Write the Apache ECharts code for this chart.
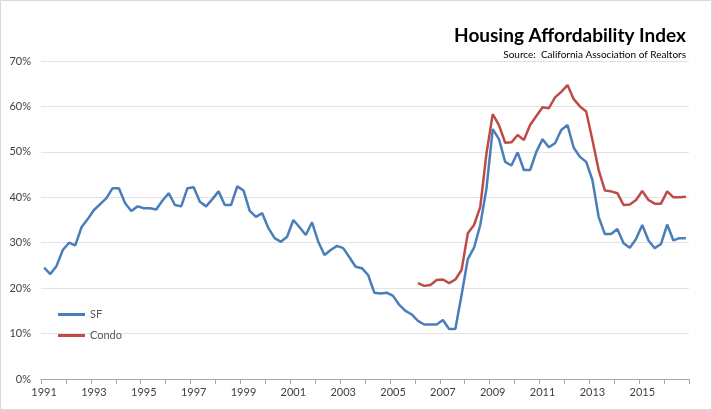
<!DOCTYPE html>
<html>
<head>
<meta charset="utf-8">
<script src="https://cdn.jsdelivr.net/npm/echarts@6/dist/echarts.min.js"></script>
<style>
html,body{margin:0;padding:0;background:#fff;}
#chart{width:712px;height:410px;}
</style>
</head>
<body>
<div id="chart"></div>
<script>
// Quarterly categories 1991 Q1 .. 2016 Q4
var years = ['1991','1992','1993','1994','1995','1996','1997','1998','1999','2000','2001','2002','2003',
             '2004','2005','2006','2007','2008','2009','2010','2011','2012','2013','2014','2015','2016'];
var quarters = ['Q1','Q2','Q3','Q4'];
var categories = [];
years.forEach(function(y){ quarters.forEach(function(q){ categories.push(y + ' ' + q); }); });

// Housing Affordability Index, single family (%)
var sfValues = [
  24.5, 23.1, 24.9, 28.4, 30.0, 29.4, 33.4, 35.2, 37.2, 38.5, 39.8, 42.0,
  42.0, 38.7, 37.0, 38.0, 37.6, 37.6, 37.3, 39.3, 40.9, 38.3, 38.0, 42.0,
  42.2, 39.0, 38.0, 39.6, 41.3, 38.3, 38.3, 42.4, 41.5, 37.0, 35.7, 36.5,
  33.2, 31.0, 30.2, 31.3, 35.0, 33.4, 31.7, 34.5, 30.2, 27.3, 28.4, 29.3,
  28.8, 26.8, 24.7, 24.4, 22.9, 19.0, 18.8, 19.0, 18.3, 16.3, 15.0, 14.2,
  12.8, 12.0, 12.0, 12.0, 13.0, 11.0, 11.0, 18.5, 26.4, 28.9, 33.9, 42.0,
  55.0, 52.8, 47.8, 47.0, 49.9, 46.0, 46.0, 50.0, 52.8, 51.0, 51.9, 54.8,
  55.9, 50.9, 48.9, 47.8, 43.8, 35.7, 31.9, 31.9, 33.0, 29.9, 28.9, 30.8,
  33.9, 30.5, 28.8, 29.7, 34.0, 30.5, 31.0, 31.0
];

// Condo (%), starts 2006 Q1
var condoValues = [
  null, null, null, null, null, null, null, null, null, null, null, null,
  null, null, null, null, null, null, null, null, null, null, null, null,
  null, null, null, null, null, null, null, null, null, null, null, null,
  null, null, null, null, null, null, null, null, null, null, null, null,
  null, null, null, null, null, null, null, null, null, null, null, null,
  21.1, 20.5, 20.7, 21.8, 21.9, 21.1, 21.9, 24.0, 32.1, 33.9, 37.9, 49.7,
  58.3, 55.9, 52.0, 52.1, 53.7, 52.6, 55.9, 57.9, 59.8, 59.6, 62.0, 63.2,
  64.7, 61.6, 60.0, 58.9, 52.6, 46.0, 41.5, 41.3, 40.9, 38.3, 38.4, 39.4,
  41.4, 39.4, 38.6, 38.6, 41.3, 40.0, 40.0, 40.1
];

var titleText = 'Housing Affordability Index';
var sourceText = 'Source:  California Association of Realtors';

var FONT = 'Lato, "Open Sans", sans-serif';
var chart = echarts.init(document.getElementById('chart'), null, {renderer: 'canvas'});
chart.setOption({
  animation: false,
  backgroundColor: '#ffffff',
  textStyle: {fontFamily: FONT},
  title: [
    {text: titleText, right: 26, top: 26, padding: 0,
     textStyle: {fontFamily: FONT, fontWeight: 'bold', fontSize: 19, color: '#000000'}},
    {text: sourceText, right: 26, top: 50, padding: 0,
     textStyle: {fontFamily: FONT, fontWeight: 'normal', fontSize: 10, color: '#000000'}}
  ],
  graphic: [{
    type: 'rect', shape: {x: 0.5, y: 0.5, width: 711, height: 409},
    style: {fill: 'none', stroke: '#d9d9d9', lineWidth: 1}, silent: true
  }],
  legend: {
    orient: 'vertical', left: 53, top: 304,
    itemWidth: 27, itemHeight: 3, icon: 'rect', itemGap: 10,
    textStyle: {fontFamily: FONT, fontSize: 11, color: '#595959'},
    data: ['SF', 'Condo']
  },
  grid: {left: 41, right: 23, top: 61, bottom: 31, containLabel: false},
  xAxis: {
    type: 'category', data: categories, boundaryGap: true,
    axisLine: {lineStyle: {color: '#a6a6a6', width: 1}},
    axisTick: {show: true, interval: 3, length: 5, lineStyle: {color: '#a6a6a6'}},
    axisLabel: {interval: 7, margin: 8, fontSize: 11, color: '#404040', fontFamily: FONT,
                formatter: function(v){ return v.slice(0, 4); }},
    splitLine: {show: false}
  },
  yAxis: {
    type: 'value', min: 0, max: 70, interval: 10,
    axisLine: {show: false}, axisTick: {show: false},
    axisLabel: {formatter: '{value}%', fontSize: 11, color: '#404040', fontFamily: FONT, margin: 10},
    splitLine: {lineStyle: {color: '#e3e3e3', width: 1}}
  },
  series: [
    {name: 'SF', type: 'line', data: sfValues, symbol: 'none', smooth: false,
     lineStyle: {color: '#4a7ebb', width: 2.5}, itemStyle: {color: '#4a7ebb'}},
    {name: 'Condo', type: 'line', data: condoValues, symbol: 'none', smooth: false,
     connectNulls: false,
     lineStyle: {color: '#be4b48', width: 2.5}, itemStyle: {color: '#be4b48'}}
  ]
});
</script>
</body>
</html>
